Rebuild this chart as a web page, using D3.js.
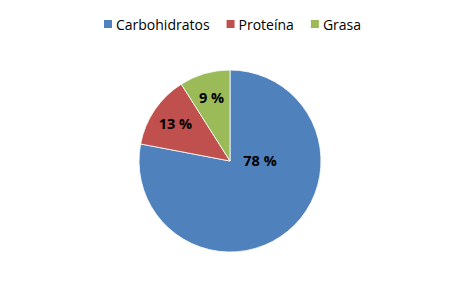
<!DOCTYPE html>
<html>
<head>
<meta charset="utf-8">
<script src="https://cdn.jsdelivr.net/npm/d3@7"></script>
<style>
  body { margin: 0; background: #fff; }
  text { font-family: "Open Sans", sans-serif; }
</style>
</head>
<body>
<script>
// chart data
var categories = ['Carbohidratos', 'Proteína', 'Grasa'];
var values = [78, 13, 9];
var colors = ['#4F81BD', '#C0504D', '#9BBB59'];

var width = 460, height = 285;
var cx = 230, cy = 161, radius = 91;

var svg = d3.select('body').append('svg')
  .attr('width', width)
  .attr('height', height);

var pie = d3.pie().sort(null).value(function(d) { return d; });
var arcs = pie(values);

var arc = d3.arc().innerRadius(0).outerRadius(radius);
var labelArc = d3.arc().innerRadius(132).outerRadius(0); // centroid at r=66

var g = svg.append('g').attr('transform', 'translate(' + cx + ',' + cy + ')');

g.selectAll('path')
  .data(arcs)
  .enter().append('path')
  .attr('d', arc)
  .attr('fill', function(d, i) { return colors[i]; })
  .attr('stroke', '#fff')
  .attr('stroke-width', 0.8);

// labels
g.selectAll('text.lbl')
  .data(arcs)
  .enter().append('text')
  .attr('class', 'lbl')
  .attr('transform', function(d) {
    var p = labelArc.centroid(d);
    if (d.endAngle - d.startAngle > Math.PI) p = [radius * 0.33, 0]; // big slice label sits right of center
    return 'translate(' + p[0] + ',' + p[1] + ')';
  })
  .attr('text-anchor', 'middle')
  .attr('dy', '0.35em')
  .style('font-size', '14.5px')
  .style('font-weight', 'bold')
  .attr('fill', '#000')
  .text(function(d) { return d.value + ' %'; });

// legend, laid out then centred like the reference
var legend = svg.append('g');
var lx = 0;
categories.forEach(function(c, i) {
  legend.append('rect')
    .attr('x', lx).attr('y', 20)
    .attr('width', 8).attr('height', 8)
    .attr('fill', colors[i]);
  var t = legend.append('text')
    .attr('x', lx + 12).attr('y', 29.5)
    .style('font-size', '14px')
    .attr('fill', '#000')
    .text(c);
  lx += 12 + t.node().getComputedTextLength() + (i < categories.length - 1 ? 17 : 0);
});
legend.attr('transform', 'translate(' + (232.5 - lx / 2) + ',0)');
</script>
</body>
</html>
